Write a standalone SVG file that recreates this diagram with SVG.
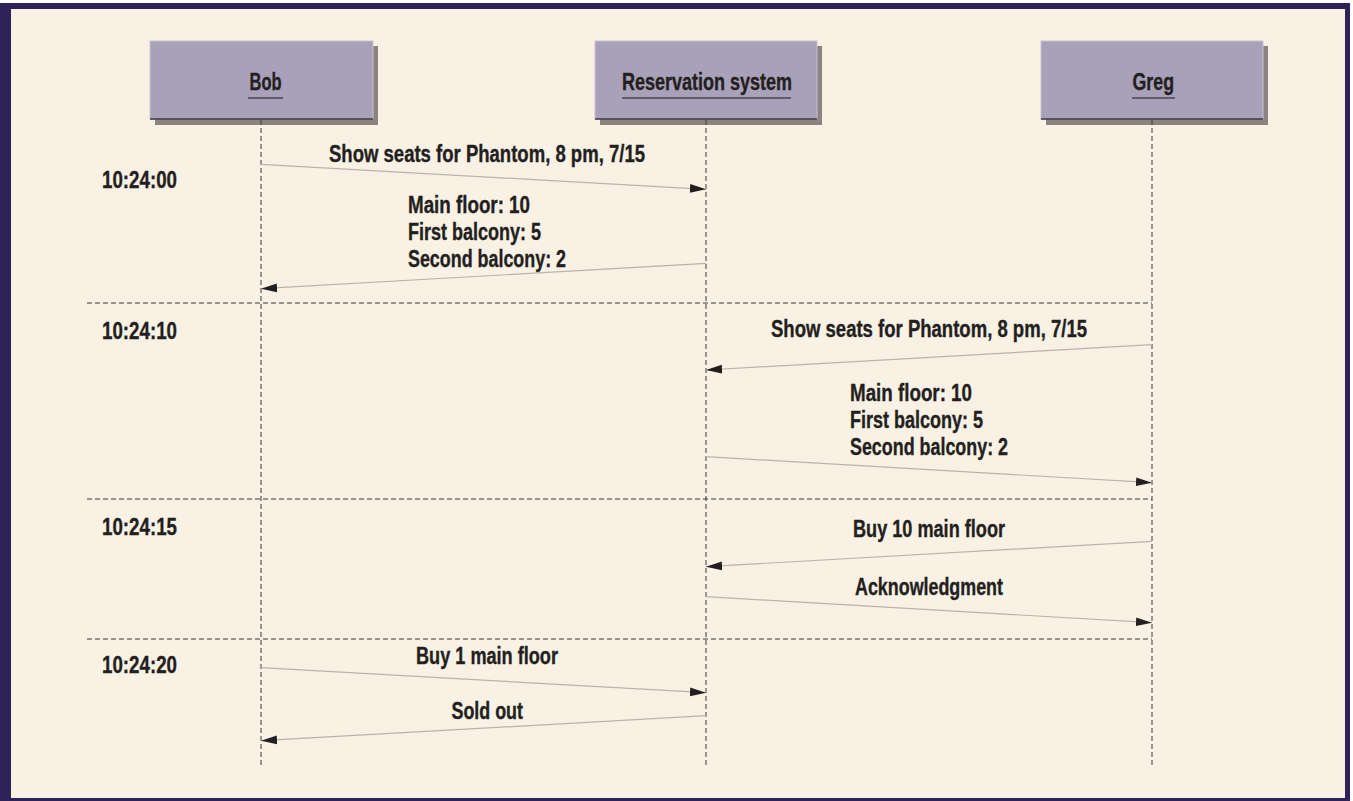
<svg xmlns="http://www.w3.org/2000/svg" width="1353" height="801" viewBox="0 0 1353 801">
<style>
.t{font-family:"Liberation Sans Narrow","Liberation Sans",Arial,sans-serif;font-weight:bold;font-size:23px;fill:#231f20;stroke:#231f20;stroke-width:0.35;}
.box{fill:#a9a1b9;stroke:#c9c2d2;stroke-width:1;}
.shadow{fill:#8a8380;}
.boxbot{stroke:#3a3540;stroke-width:1.5;}
.ul{stroke:#4a4550;stroke-width:1.5;}
.life{stroke:#3a3a3a;stroke-width:1;stroke-dasharray:5 3;fill:none;}
.sep{stroke:#3a3a3a;stroke-width:1;stroke-dasharray:5 3;fill:none;}
.msg{stroke:#b9b5aa;stroke-width:1.2;fill:none;marker-end:url(#ah);}
</style>
<defs>
<marker id="ah" markerWidth="17" markerHeight="10" refX="16" refY="5" orient="auto" markerUnits="userSpaceOnUse">
<path d="M0,0.6 L16,5 L0,9.4 Z" fill="#231f20"/>
</marker>
</defs>
<rect x="0" y="0" width="1353" height="801" fill="#ffffff"/>
<rect x="0" y="3" width="1350" height="798" fill="#2e2257"/>
<rect x="11" y="9" width="1334" height="789" fill="#f8f1e4"/>

<g id="separators">
<line class="sep" x1="87" y1="303" x2="1152" y2="303"/>
<line class="sep" x1="87" y1="499" x2="1152" y2="499"/>
<line class="sep" x1="87" y1="639" x2="1152" y2="639"/>
</g>

<g id="timestamps">
<text class="t" x="102" y="188" textLength="75" lengthAdjust="spacingAndGlyphs">10:24:00</text>
<text class="t" x="102" y="339" textLength="75" lengthAdjust="spacingAndGlyphs">10:24:10</text>
<text class="t" x="102" y="535" textLength="75" lengthAdjust="spacingAndGlyphs">10:24:15</text>
<text class="t" x="102" y="673" textLength="75" lengthAdjust="spacingAndGlyphs">10:24:20</text>
</g>

<g id="bob">
<rect class="shadow" x="155" y="46" width="223" height="79"/>
<rect class="box" x="150" y="41" width="223" height="78"/>
<line class="boxbot" x1="150" y1="119" x2="373" y2="119"/>
<text class="t" x="249.5" y="89.5" textLength="32" lengthAdjust="spacingAndGlyphs">Bob</text>
<line class="ul" x1="248" y1="98" x2="283" y2="98"/>
<line class="life" x1="261" y1="120" x2="261" y2="765"/>
</g>

<g id="reservation">
<rect class="shadow" x="600" y="46" width="222" height="79"/>
<rect class="box" x="595" y="41" width="222" height="78"/>
<line class="boxbot" x1="595" y1="119" x2="817" y2="119"/>
<text class="t" x="622" y="89.5" textLength="170" lengthAdjust="spacingAndGlyphs">Reservation system</text>
<line class="ul" x1="622" y1="98" x2="791" y2="98"/>
<line class="life" x1="706" y1="120" x2="706" y2="765"/>
</g>

<g id="greg">
<rect class="shadow" x="1046" y="46" width="222" height="79"/>
<rect class="box" x="1041" y="41" width="222" height="78"/>
<line class="boxbot" x1="1041" y1="119" x2="1263" y2="119"/>
<text class="t" x="1132.5" y="89.5" textLength="41.5" lengthAdjust="spacingAndGlyphs">Greg</text>
<line class="ul" x1="1132" y1="98" x2="1175" y2="98"/>
<line class="life" x1="1152" y1="120" x2="1152" y2="765"/>
</g>

<g id="connectors">
<line class="msg" x1="261" y1="164.3" x2="706" y2="189.3"/>
<line class="msg" x1="706" y1="263.3" x2="261" y2="288.7"/>
<line class="msg" x1="1152" y1="344.7" x2="706" y2="370"/>
<line class="msg" x1="706" y1="456.7" x2="1152" y2="482.7"/>
<line class="msg" x1="1152" y1="541.3" x2="706" y2="566.7"/>
<line class="msg" x1="706" y1="596.7" x2="1152" y2="622.7"/>
<line class="msg" x1="261" y1="667.7" x2="706" y2="692.7"/>
<line class="msg" x1="706" y1="715.7" x2="261" y2="740.7"/>
</g>

<g id="labels">
<text class="t" x="329" y="161.5" textLength="316" lengthAdjust="spacingAndGlyphs">Show seats for Phantom, 8 pm, 7/15</text>
<text class="t" x="408" y="213.3" textLength="122" lengthAdjust="spacingAndGlyphs">Main floor: 10</text>
<text class="t" x="408" y="240" textLength="133" lengthAdjust="spacingAndGlyphs">First balcony: 5</text>
<text class="t" x="408" y="266.7" textLength="158" lengthAdjust="spacingAndGlyphs">Second balcony: 2</text>
<text class="t" x="771" y="337" textLength="316" lengthAdjust="spacingAndGlyphs">Show seats for Phantom, 8 pm, 7/15</text>
<text class="t" x="850" y="401" textLength="122" lengthAdjust="spacingAndGlyphs">Main floor: 10</text>
<text class="t" x="850" y="428.3" textLength="133" lengthAdjust="spacingAndGlyphs">First balcony: 5</text>
<text class="t" x="850" y="455" textLength="158" lengthAdjust="spacingAndGlyphs">Second balcony: 2</text>
<text class="t" x="853" y="537.3" textLength="152" lengthAdjust="spacingAndGlyphs">Buy 10 main floor</text>
<text class="t" x="855" y="595.3" textLength="148" lengthAdjust="spacingAndGlyphs">Acknowledgment</text>
<text class="t" x="416" y="664" textLength="142" lengthAdjust="spacingAndGlyphs">Buy 1 main floor</text>
<text class="t" x="451.5" y="719" textLength="71.5" lengthAdjust="spacingAndGlyphs">Sold out</text>
</g>
</svg>
